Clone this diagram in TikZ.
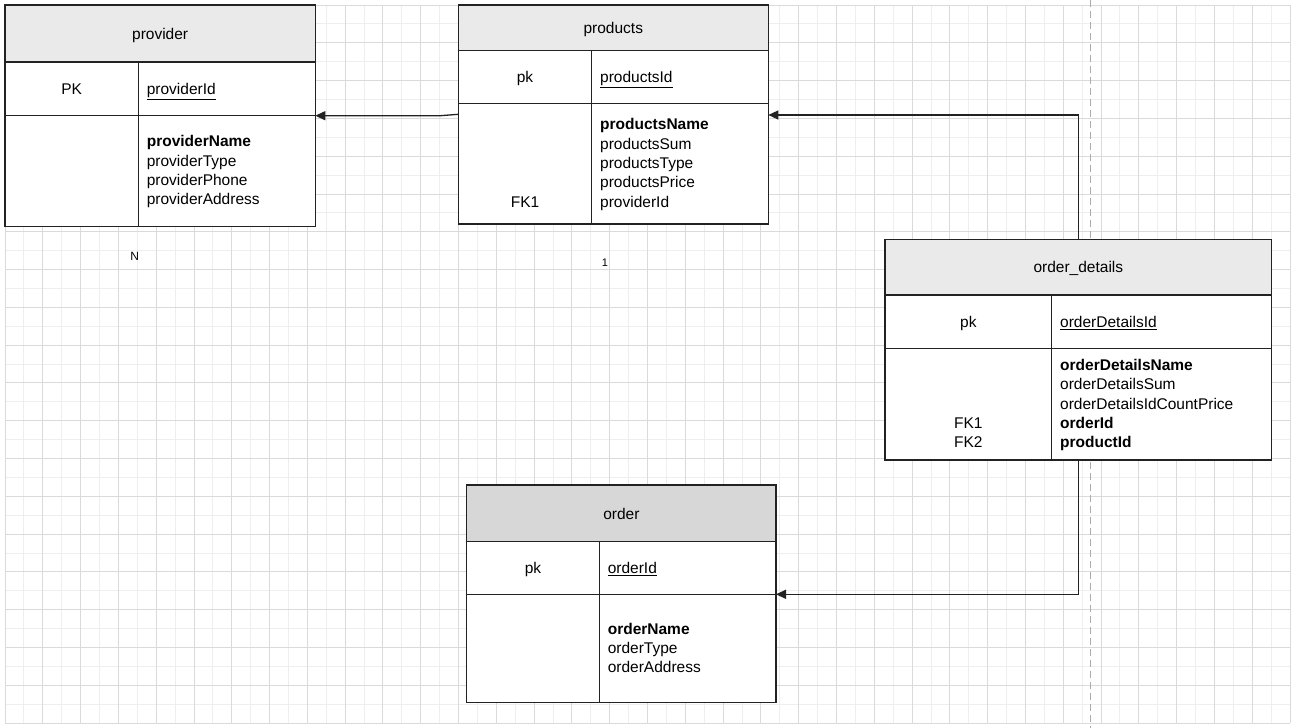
\documentclass[tikz,border=0pt]{standalone}
\usepackage{fontspec}
\setmainfont{Liberation Sans}
\usetikzlibrary{positioning, arrows.meta, calc}
\definecolor{headlight}{HTML}{EAEAEA}
\definecolor{headdark}{HTML}{D7D7D7}
\definecolor{gridmin}{HTML}{EEEEEE}
\definecolor{gridmaj}{HTML}{DADADA}
\definecolor{edge}{HTML}{222222}
\newcommand{\topstrut}{\rule{0pt}{15.5pt}}

\begin{document}
\begin{tikzpicture}[
  x=1pt, y=-1pt,
  >=Stealth,
  tblhead/.style={
    rectangle, draw=edge, line width=1.2pt, fill=headlight,
    anchor=north west, inner sep=0pt, outer sep=0pt, align=center,
    text height=11.5pt, text depth=0pt,
    font=\fontsize{15.5}{19.3}\selectfont
  },
  keycell/.style={
    rectangle, draw=edge, line width=1.2pt, fill=white,
    anchor=north west, inner sep=0pt, outer sep=0pt, align=center,
    font=\fontsize{15.5}{19.3}\selectfont
  },
  fieldcell/.style={
    rectangle, draw=edge, line width=1.2pt, fill=white,
    anchor=north west, inner xsep=8.5pt, inner ysep=0pt, outer sep=0pt,
    align=left, text width=#1, font=\fontsize{15.5}{19.3}\selectfont
  },
  oneline/.style={text height=11.5pt, text depth=0pt},
  rel/.style={
    draw=edge, line width=1.3pt, -{Triangle[length=10pt, width=9pt]}
  },
  card/.style={font=\fontsize{12}{14}\selectfont, inner sep=0pt},
  gridminor/.style={draw=gridmin, line width=0.9pt},
  gridmajor/.style={draw=gridmaj, line width=0.9pt},
  guide/.style={draw=gray!65, line width=0.9pt, dash pattern=on 7pt off 4pt},
]

\useasboundingbox[fill=white] (0,0) rectangle (1299,728);

% Background grid
\foreach \i in {0,...,68}
  \draw[gridminor] ({5+\i*18.897},5) -- ({5+\i*18.897},723);
\foreach \j in {0,...,38}
  \draw[gridminor] (5,{5+\j*18.895}) -- (1290,{5+\j*18.895});
\foreach \i in {0,...,34}
  \draw[gridmajor] ({5+\i*37.794},5) -- ({5+\i*37.794},723);
\foreach \j in {0,...,19}
  \draw[gridmajor] (5,{5+\j*37.79}) -- (1290,{5+\j*37.79});
\draw[guide] (1090.3,0) -- (1090.3,728);

% Provider
\node[tblhead, minimum width=310.3pt, minimum height=57pt] (provhead) at (5,5)
  {provider};
\node[keycell, oneline, minimum width=133.3pt, minimum height=53.7pt] (provpk)
  at (provhead.south west) {PK};
\node[fieldcell=160pt, oneline, minimum height=53.7pt] (provid)
  at (provpk.north east) {\underline{providerId}};
\node[keycell, minimum width=133.3pt, minimum height=110.6pt] (provfk)
  at (provpk.south west) {};
\node[fieldcell=160pt, minimum height=110.6pt] (provattr)
  at (provfk.north east)
  {\topstrut\textbf{providerName}\\providerType\\providerPhone\\providerAddress\strut};

% Products
\node[tblhead, minimum width=310pt, minimum height=45.7pt] (prodhead) at (458.3,5)
  {products};
\node[keycell, oneline, minimum width=133.4pt, minimum height=52.6pt] (prodpk)
  at (prodhead.south west) {pk};
\node[fieldcell=159.6pt, oneline, minimum height=52.6pt] (prodid)
  at (prodpk.north east) {\underline{productsId}};
\node[keycell, minimum width=133.4pt, minimum height=120.7pt] (prodfk)
  at (prodpk.south west) {\topstrut\\\strut\\\strut\\\strut\\FK1\strut};
\node[fieldcell=159.6pt, minimum height=120.7pt] (prodattr)
  at (prodfk.north east)
  {\topstrut\textbf{productsName}\\productsSum\\productsType\\productsPrice\\providerId\strut};

% Order details
\node[tblhead, minimum width=386.7pt, minimum height=55.7pt] (odhead) at (885,239.3)
  {order\_details};
\node[keycell, oneline, minimum width=166.7pt, minimum height=53.3pt] (odpk)
  at (odhead.south west) {pk};
\node[fieldcell=203pt, oneline, minimum height=53.3pt] (odid)
  at (odpk.north east) {\underline{orderDetailsId}};
\node[keycell, minimum width=166.7pt, minimum height=111.7pt] (odfk)
  at (odpk.south west) {\topstrut\\\strut\\\strut\\FK1\\FK2\strut};
\node[fieldcell=203pt, minimum height=111.7pt] (odattr)
  at (odfk.north east)
  {\topstrut\textbf{orderDetailsName}\\orderDetailsSum\\orderDetailsIdCountPrice\\
   \textbf{orderId}\\\textbf{productId}\strut};

% Order
\node[tblhead, fill=headdark, minimum width=309.3pt, minimum height=56.7pt] (ordhead)
  at (466.7,485) {order};
\node[keycell, oneline, minimum width=132.6pt, minimum height=52.6pt] (ordpk)
  at (ordhead.south west) {pk};
\node[fieldcell=159.7pt, oneline, minimum height=52.6pt] (ordid)
  at (ordpk.north east) {\underline{orderId}};
\node[keycell, minimum width=132.6pt, minimum height=108.4pt] (ordfk)
  at (ordpk.south west) {};
\node[fieldcell=159.7pt, minimum height=108.4pt] (ordattr)
  at (ordfk.north east)
  {\topstrut\textbf{orderName}\\orderType\\orderAddress\strut};

% Cardinality
\node[card] (cardn) at (134.7,256.7) {N};
\node[card, font=\fontsize{11}{13}\selectfont] (cardone) at (605,262.3) {1};

% Relations
\draw[rel] ([yshift=-11pt]prodfk.north west) -- ([xshift=125pt]provattr.north east)
  -- (provattr.north east);
\draw[rel] (odhead.north) |- ([yshift=-11.7pt]prodattr.north east);
\draw[rel] (odhead |- odattr.south) |- (ordattr.north east);

\end{tikzpicture}
\end{document}
